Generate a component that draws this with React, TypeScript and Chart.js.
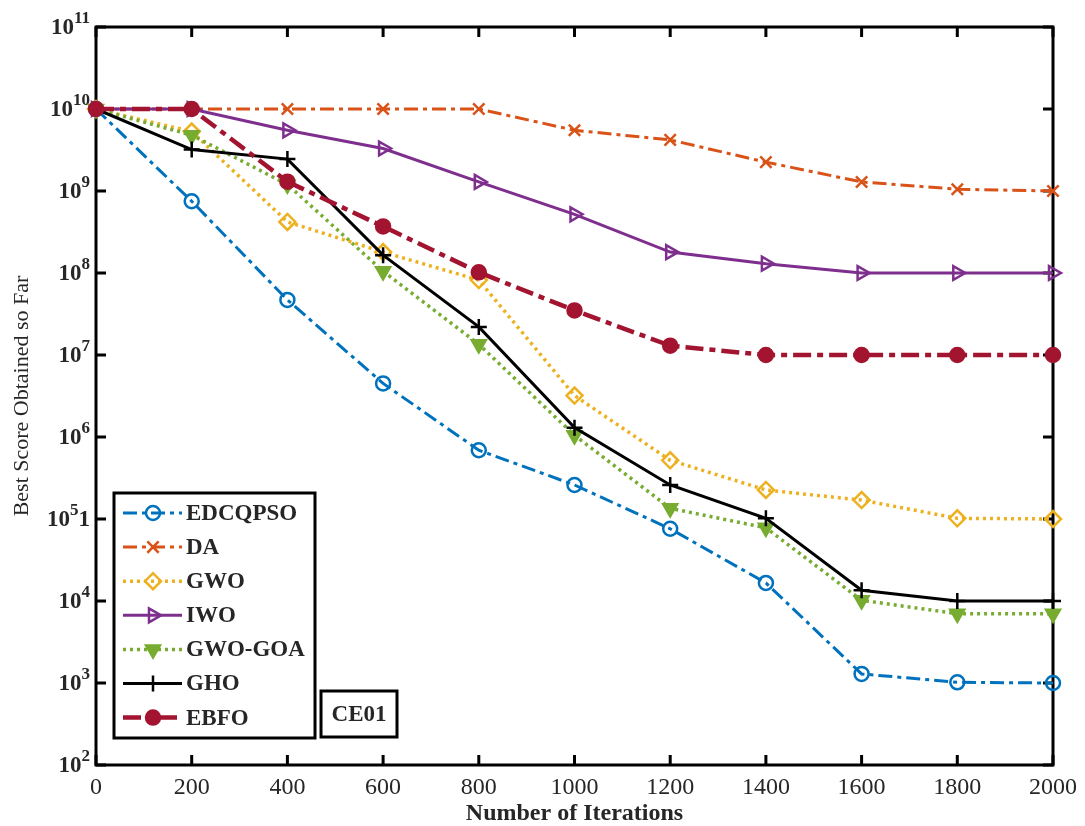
import React, { useEffect, useRef } from 'react';
import { Chart, registerables } from 'chart.js';
import { drawPoint } from 'chart.js/helpers';

Chart.register(...registerables);

// ---- data ----
const iterations = [0, 200, 400, 600, 800, 1000, 1200, 1400, 1600, 1800, 2000];
const edcqpso = [1e10, 7.5e8, 4.7e7, 4.5e6, 6.9e5, 2.6e5, 7.6e4, 1.66e4, 1.29e3, 1.02e3, 1.0e3];
const da = [1e10, 1e10, 1e10, 1e10, 1e10, 5.5e9, 4.2e9, 2.25e9, 1.29e9, 1.05e9, 1.0e9];
const gwo = [1e10, 5.3e9, 4.2e8, 1.8e8, 8.2e7, 3.2e6, 5.2e5, 2.26e5, 1.7e5, 1.02e5, 1.0e5];
const iwo = [1e10, 1e10, 5.5e9, 3.3e9, 1.29e9, 5.2e8, 1.8e8, 1.3e8, 1.0e8, 1.0e8, 1.0e8];
const gwoGoa = [1e10, 4.8e9, 1.2e9, 1.05e8, 1.35e7, 1.05e6, 1.35e5, 7.8e4, 1.02e4, 7.0e3, 7.0e3];
const gho = [1e10, 3.2e9, 2.45e9, 1.65e8, 2.2e7, 1.3e6, 2.6e5, 1.02e5, 1.35e4, 1.0e4, 1.0e4];
const ebfo = [1e10, 1e10, 1.3e9, 3.7e8, 1.02e8, 3.5e7, 1.3e7, 1.0e7, 1.0e7, 1.0e7, 1.0e7];

const seriesNames = ['EDCQPSO', 'DA', 'GWO', 'IWO', 'GWO-GOA', 'GHO', 'EBFO'];
const xTickValues = [0, 200, 400, 600, 800, 1000, 1200, 1400, 1600, 1800, 2000];
const yTickExponents = [2, 3, 4, 5, 6, 7, 8, 9, 10, 11];
// tick label = base + superscript + trailing text (the reference shows "10^5 1")
const yTickBase = ['10', '10', '10', '10', '10', '10', '10', '10', '10', '10'];
const yTickSup = ['2', '3', '4', '5', '6', '7', '8', '9', '10', '11'];
const yTickTail = ['', '', '', '1', '', '', '', '', '', ''];
const xTitle = 'Number of Iterations';
const yTitle = 'Best Score Obtained so Far';
const caseLabel = 'CE01';

const FONT = "'Liberation Serif', 'DejaVu Serif', serif";
const TEXT = '#262626';

const styles = [
  { color: '#0072BD', width: 3, dash: [14, 5, 4, 5], pointStyle: 'circle', radius: 7, rotation: 0, fill: 'rgba(255,255,255,0)' },
  { color: '#D95319', width: 3, dash: [14, 5, 4, 5], pointStyle: 'crossRot', radius: 8, rotation: 0, fill: 'rgba(255,255,255,0)' },
  { color: '#EDB120', width: 3.5, dash: [3, 4], pointStyle: 'rectRot', radius: 8, rotation: 0, fill: 'rgba(255,255,255,0)' },
  { color: '#7E2F8E', width: 3, dash: [], pointStyle: 'triangle', radius: 8, rotation: 90, fill: 'rgba(255,255,255,0)' },
  { color: '#77AC30', width: 3.5, dash: [3, 4], pointStyle: 'triangle', radius: 8, rotation: 180, fill: '#77AC30' },
  { color: '#000000', width: 3, dash: [], pointStyle: 'cross', radius: 8, rotation: 0, fill: 'rgba(255,255,255,0)' },
  { color: '#A2142F', width: 4.5, dash: [18, 6, 6, 6], pointStyle: 'circle', radius: 7, rotation: 0, fill: '#A2142F' },
];

const seriesValues = [edcqpso, da, gwo, iwo, gwoGoa, gho, ebfo];

const framePlugin = {
  id: 'matlabFrame',
  beforeDatasetsDraw(chart: any) {
    const { ctx, chartArea } = chart;
    const { left, right, top, bottom } = chartArea;
    const x = chart.scales.x;
    const y = chart.scales.y;
    ctx.save();
    ctx.strokeStyle = '#000';
    ctx.lineWidth = 3;
    ctx.strokeRect(left, top, right - left, bottom - top);
    const tl = 10;
    ctx.beginPath();
    xTickValues.forEach((v) => {
      const px = x.getPixelForValue(v);
      ctx.moveTo(px, bottom);
      ctx.lineTo(px, bottom - tl);
      ctx.moveTo(px, top);
      ctx.lineTo(px, top + tl);
    });
    yTickExponents.forEach((e) => {
      const py = y.getPixelForValue(Math.pow(10, e));
      ctx.moveTo(left, py);
      ctx.lineTo(left + tl, py);
      ctx.moveTo(right, py);
      ctx.lineTo(right - tl, py);
    });
    ctx.stroke();

    // y tick labels: 10 with raised exponent, right-aligned to the axis
    ctx.fillStyle = TEXT;
    ctx.textBaseline = 'middle';
    ctx.textAlign = 'left';
    const baseFont = `bold 23px ${FONT}`;
    const supFont = `bold 17px ${FONT}`;
    yTickExponents.forEach((e, i) => {
      const py = y.getPixelForValue(Math.pow(10, e));
      ctx.font = baseFont;
      const wBase = ctx.measureText(yTickBase[i]).width;
      const wTail = ctx.measureText(yTickTail[i]).width;
      ctx.font = supFont;
      const wSup = ctx.measureText(yTickSup[i]).width;
      const endX = left - 6;
      const startX = endX - (wBase + wSup + wTail);
      ctx.font = baseFont;
      ctx.fillText(yTickBase[i], startX, py + 1);
      ctx.font = supFont;
      ctx.fillText(yTickSup[i], startX + wBase, py - 8);
      if (yTickTail[i]) {
        ctx.font = baseFont;
        ctx.fillText(yTickTail[i], startX + wBase + wSup, py + 1);
      }
    });
    ctx.restore();
  },
  afterDraw(chart: any) {
    const { ctx } = chart;
    ctx.save();
    // legend box
    const lx = 114, ly = 493, lw = 201, lh = 245;
    ctx.fillStyle = '#fff';
    ctx.fillRect(lx, ly, lw, lh);
    ctx.strokeStyle = '#000';
    ctx.lineWidth = 3;
    ctx.strokeRect(lx, ly, lw, lh);
    ctx.font = `bold 23px ${FONT}`;
    ctx.textBaseline = 'middle';
    ctx.textAlign = 'left';
    seriesNames.forEach((name, i) => {
      const s = styles[i];
      const ry = 513 + i * 34.1;
      ctx.save();
      ctx.strokeStyle = s.color;
      ctx.lineWidth = s.width;
      ctx.setLineDash(s.dash);
      ctx.beginPath();
      ctx.moveTo(123, ry);
      ctx.lineTo(182, ry);
      ctx.stroke();
      ctx.setLineDash([]);
      ctx.fillStyle = s.fill;
      ctx.strokeStyle = s.color;
      ctx.lineWidth = 2.5;
      drawPoint(ctx, { pointStyle: s.pointStyle, radius: s.radius, rotation: s.rotation, borderWidth: 2.5 } as any, 153, ry);
      ctx.restore();
      ctx.fillStyle = TEXT;
      ctx.fillText(name, 186, ry + 1);
    });
    // case label box
    const cx = 321, cy = 691, cw = 76, ch = 46;
    ctx.fillStyle = '#fff';
    ctx.fillRect(cx, cy, cw, ch);
    ctx.strokeStyle = '#000';
    ctx.lineWidth = 3;
    ctx.strokeRect(cx, cy, cw, ch);
    ctx.fillStyle = TEXT;
    ctx.textAlign = 'center';
    ctx.fillText(caseLabel, cx + cw / 2, cy + ch / 2 + 1);
    ctx.restore();
  },
};

export default function App() {
  const canvasRef = useRef<HTMLCanvasElement | null>(null);

  useEffect(() => {
    const canvas = canvasRef.current;
    if (!canvas) return;
    const datasets = seriesNames.map((name, i) => {
      const s = styles[i];
      return {
        label: name,
        data: iterations.map((it, k) => ({ x: it, y: seriesValues[i][k] })),
        borderColor: s.color,
        backgroundColor: s.color,
        borderWidth: s.width,
        borderDash: s.dash,
        pointStyle: s.pointStyle,
        pointRadius: s.radius,
        pointRotation: s.rotation,
        pointBorderWidth: 2.5,
        pointBorderColor: s.color,
        pointBackgroundColor: s.fill,
        tension: 0,
        fill: false,
        clip: false,
        order: seriesNames.length - 1 - i,
      };
    });

    const chart = new Chart(canvas, {
      type: 'line',
      data: { datasets } as any,
      options: {
        responsive: false,
        animation: false,
        events: [],
        layout: { padding: { top: 27, right: 23, left: 0, bottom: 0 } },
        plugins: {
          legend: { display: false },
          tooltip: { enabled: false },
          title: { display: false },
        },
        scales: {
          x: {
            type: 'linear',
            min: 0,
            max: 2000,
            afterFit: (scale: any) => { scale.height = 61; },
            afterBuildTicks: (scale: any) => { scale.ticks = xTickValues.map((v) => ({ value: v })); },
            grid: { display: false, drawTicks: false },
            border: { display: false },
            ticks: {
              color: TEXT,
              padding: 8,
              maxRotation: 0,
              autoSkip: false,
              font: { family: FONT, size: 24, weight: 'normal' },
              callback: (v: any) => String(v),
            },
            title: {
              display: true,
              text: xTitle,
              color: TEXT,
              font: { family: FONT, size: 24, weight: 'bold', lineHeight: 1 },
              padding: { top: 0, bottom: 0 },
            },
          },
          y: {
            type: 'logarithmic',
            min: 1e2,
            max: 1e11,
            afterFit: (scale: any) => { scale.width = 96; },
            afterBuildTicks: (scale: any) => { scale.ticks = yTickExponents.map((e) => ({ value: Math.pow(10, e) })); },
            grid: { display: false, drawTicks: false },
            border: { display: false },
            ticks: { display: false },
            title: {
              display: true,
              text: yTitle,
              color: TEXT,
              font: { family: FONT, size: 22, weight: 'normal', lineHeight: 1 },
              padding: { top: 11, bottom: 0 },
            },
          },
        },
      } as any,
      plugins: [framePlugin],
    });
    return () => chart.destroy();
  }, []);

  return (
    <div style={{ position: 'absolute', left: 0, top: 0, width: 1085, height: 826, background: '#fff' }}>
      <canvas ref={canvasRef} width={1085} height={826} style={{ display: 'block' }} />
    </div>
  );
}
